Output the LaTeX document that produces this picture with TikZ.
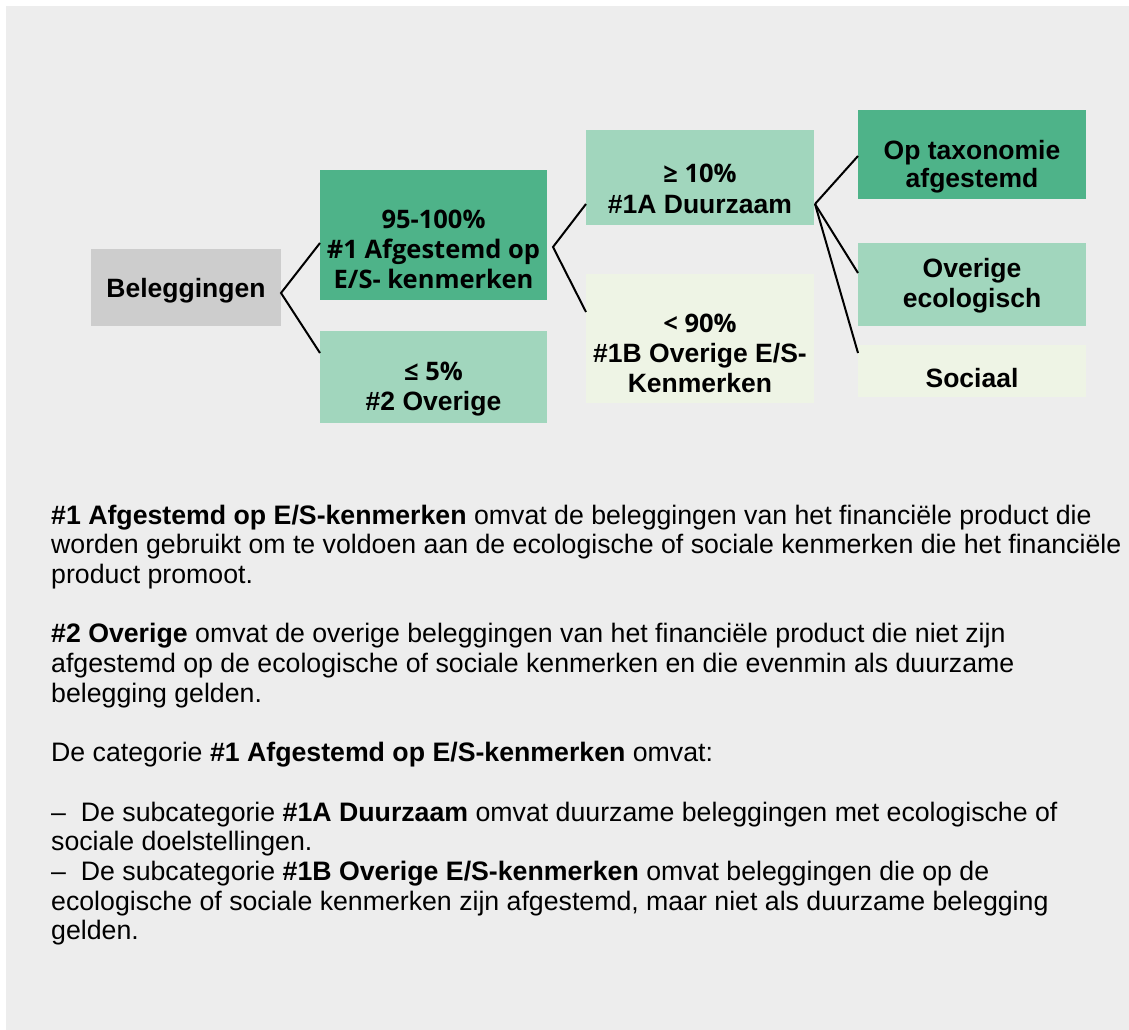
\documentclass[tikz,border=0pt]{standalone}
\usepackage{fontspec}
\setmainfont{Liberation Sans}
\newfontfamily\osans{Open Sans}
\usetikzlibrary{calc}
\definecolor{bgc}{HTML}{EDEDED}
\definecolor{gdark}{HTML}{4EB389}
\definecolor{gmid}{HTML}{A1D6BD}
\definecolor{gpale}{HTML}{EEF4E5}
\definecolor{gbox}{HTML}{CDCDCD}
\newcommand{\bfs}{\fontsize{26.5}{29.7}\selectfont\bfseries}
\newcommand{\osb}{\osans\fontsize{25.5}{29.7}\selectfont\bfseries}
\newcommand{\bodyfs}{\fontsize{26.7}{29.7}\selectfont}
\begin{document}
\begin{tikzpicture}[x=1pt,y=-1pt,
  box/.style={rectangle, draw=none, inner sep=0pt, outer sep=0pt},
  lt/.style={anchor=base, inner sep=0pt, font=\bfs},
  ot/.style={anchor=base, inner sep=0pt, font=\osb},
  bt/.style={anchor=base west, inner sep=0pt, font=\bodyfs},
  conn/.style={draw=black, line width=2pt, line join=miter}]
\useasboundingbox (0,0) rectangle (1129,1030);
\fill[white] (0,0) rectangle (1129,1030);
\fill[bgc] (6,6) rectangle (1129,1030);

% boxes
\node[box, fill=gbox, minimum width=190pt, minimum height=77pt] (bel) at (186,287.5) {};
\node[box, fill=gdark, minimum width=227pt, minimum height=130pt] (a1) at (433.5,235) {};
\node[box, fill=gmid, minimum width=227pt, minimum height=92pt] (a2) at (433.5,377) {};
\node[box, fill=gmid, minimum width=228pt, minimum height=95pt] (b1) at (700,177.5) {};
\node[box, fill=gpale, minimum width=228pt, minimum height=129pt] (b2) at (700,338.5) {};
\node[box, fill=gdark, minimum width=228pt, minimum height=89pt] (c1) at (972,154.5) {};
\node[box, fill=gmid, minimum width=228pt, minimum height=83pt] (c2) at (972,284.5) {};
\node[box, fill=gpale, minimum width=228pt, minimum height=52pt] (c3) at (972,371) {};

% box texts
\node[lt] (tbel) at (186,297) {Beleggingen};
\node[ot] (ta1a) at (433.5,228) {95-100\%};
\node[ot] (ta1b) at (433.5,258) {\#1 Afgestemd op};
\node[ot] (ta1c) at (433.5,288) {E/S- kenmerken};
\node[ot] (ta2a) at (433.5,380) {≤ 5\%};
\node[lt] (ta2b) at (433.5,410) {\#2 Overige};
\node[ot] (tb1a) at (700,182) {≥ 10\%};
\node[lt] (tb1b) at (700,213) {\#1A Duurzaam};
\node[ot] (tb2a) at (700,332) {< 90\%};
\node[lt] (tb2b) at (700,362) {\#1B Overige E/S-};
\node[lt] (tb2c) at (700,392) {Kenmerken};
\node[lt] (tc1a) at (972,159) {Op taxonomie};
\node[lt] (tc1b) at (972,187) {afgestemd};
\node[lt] (tc2a) at (972,277) {Overige};
\node[lt] (tc2b) at (972,307) {ecologisch};
\node[lt] (tc3) at (972,387) {Sociaal};

% connectors
\coordinate (v1) at ($(bel.east)+(0,5.5)$);
\coordinate (v2) at ($(a1.east)+(6,12)$);
\coordinate (v3) at ($(b1.east)+(1,26.5)$);
\draw[conn] ($(a1.west)+(0,8)$) -- (v1) -- ($(a2.west)+(0,-24)$);
\draw[conn] ($(b1.west)+(0,26.5)$) -- (v2) -- ($(b2.west)+(0,-26.5)$);
\draw[conn] ($(c1.west)+(0,1.5)$) -- (v3);
\draw[conn] ($(c2.west)+(0,-11.5)$) -- (v3);
\draw[conn] ($(c3.west)+(0,-18)$) -- (v3);

% body text
\node[bt] (p1) at (51,524) {\textbf{\#1 Afgestemd op E/S-kenmerken} omvat de beleggingen van het financiële product die};
\node[bt] (p2) at (51,553.7) {worden gebruikt om te voldoen aan de ecologische of sociale kenmerken die het financiële};
\node[bt] (p3) at (51,583.4) {product promoot.};
\node[bt] (p4) at (51,642.8) {\textbf{\#2 Overige} omvat de overige beleggingen van het financiële product die niet zijn};
\node[bt] (p5) at (51,672.5) {afgestemd op de ecologische of sociale kenmerken en die evenmin als duurzame};
\node[bt] (p6) at (51,702.2) {belegging gelden.};
\node[bt] (p7) at (51,761.6) {De categorie \textbf{\#1 Afgestemd op E/S-kenmerken} omvat:};
\node[bt] (p8) at (51,821) {–\ \ De subcategorie \textbf{\#1A Duurzaam} omvat duurzame beleggingen met ecologische of};
\node[bt] (p9) at (51,850.7) {sociale doelstellingen.};
\node[bt] (p10) at (51,880.4) {–\ \ De subcategorie \textbf{\#1B Overige E/S-kenmerken} omvat beleggingen die op de};
\node[bt] (p11) at (51,910.1) {ecologische of sociale kenmerken zijn afgestemd, maar niet als duurzame belegging};
\node[bt] (p12) at (51,939.8) {gelden.};
\end{tikzpicture}
\end{document}
